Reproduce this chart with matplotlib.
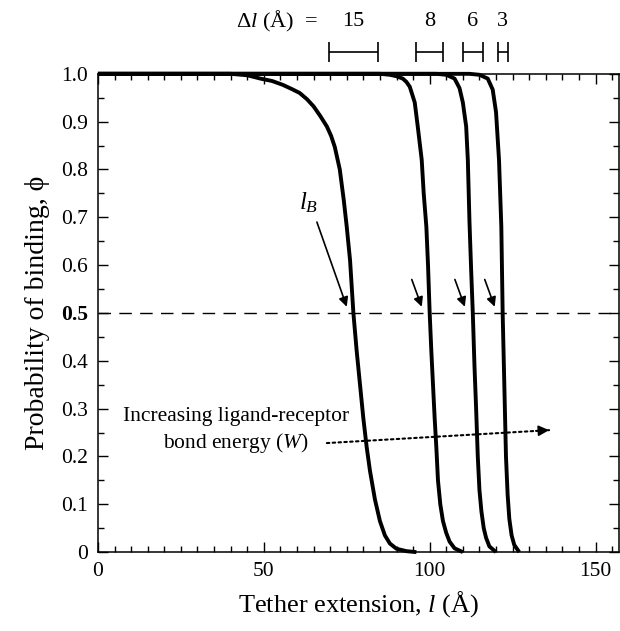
import numpy as np
import matplotlib
matplotlib.use("Agg")
import matplotlib.pyplot as plt
from matplotlib.ticker import MultipleLocator, FixedLocator

plt.rcParams['font.family'] = ['Liberation Serif', 'DejaVu Serif']
plt.rcParams['mathtext.fontset'] = 'custom'
plt.rcParams['mathtext.rm'] = 'Liberation Serif'
plt.rcParams['mathtext.it'] = 'Liberation Serif:italic'

# binding probability curves, one per bond energy
x1 = [0, 40, 45, 49, 52.5, 55.7, 58.5, 60.8, 63, 65, 67, 69, 70.3, 71.4, 72.9, 74.1, 75, 76, 77, 78, 79, 80, 81, 82, 83.5, 85, 86.5, 88, 90, 93, 96]
y1 = [1, 1, 0.997, 0.99, 0.985, 0.977, 0.968, 0.96, 0.947, 0.932, 0.912, 0.89, 0.87, 0.847, 0.80, 0.736, 0.68, 0.61, 0.5, 0.42, 0.35, 0.28, 0.22, 0.17, 0.11, 0.065, 0.035, 0.018, 0.007, 0.002, 0]

x2 = [0, 85, 88, 90, 91.9, 93, 94, 95.5, 96.4, 97.6, 98.2, 99, 99.5, 100, 100.5, 101, 101.5, 102, 102.5, 103.2, 104, 105, 106, 107.5, 110]
y2 = [1, 1, 0.998, 0.995, 0.99, 0.983, 0.973, 0.94, 0.89, 0.82, 0.75, 0.68, 0.6, 0.5, 0.42, 0.35, 0.28, 0.22, 0.15, 0.1, 0.065, 0.04, 0.022, 0.008, 0]

x3 = [0, 102, 105, 107.5, 109, 110, 111, 111.5, 112, 112.5, 113, 113.5, 114, 114.5, 115, 115.6, 116.3, 117, 118, 120]
y3 = [1, 1, 0.998, 0.99, 0.97, 0.94, 0.89, 0.82, 0.69, 0.59, 0.5, 0.39, 0.3, 0.2, 0.13, 0.085, 0.05, 0.03, 0.012, 0]

x4 = [0, 112, 115, 117.5, 119, 120, 120.9, 121.6, 122, 122.5, 123, 123.5, 124, 124.7, 125.5, 127]
y4 = [1, 1, 0.998, 0.99, 0.967, 0.92, 0.82, 0.68, 0.5, 0.35, 0.2, 0.12, 0.07, 0.035, 0.015, 0]

# l_B (midpoint) and transition width for each curve
l_B = [77, 100, 113, 122]
delta_l = [15, 8, 6, 3]

yticks = [0, 0.1, 0.2, 0.3, 0.4, 0.5, 0.6, 0.7, 0.8, 0.9, 1.0]
ytick_labels = ['0', '0.1', '0.2', '0.3', '0.4', '0.5', '0.6', '0.7', '0.8', '0.9', '1.0']
xticks = [0, 50, 100, 150]

fig = plt.figure(figsize=(6.2, 6.31), dpi=100)
ax = fig.add_axes([0.158, 0.125, 0.84, 0.758])

for xs, ys in [(x1, y1), (x2, y2), (x3, y3), (x4, y4)]:
    ax.plot(xs, ys, color='black', lw=2.8, solid_capstyle='butt', solid_joinstyle='round',
            clip_on=False, zorder=3)

ax.axhline(0.5, color='black', lw=1.0, dashes=(9, 6))

ax.set_xlim(0, 157)
ax.set_ylim(0, 1.0)
ax.xaxis.set_major_locator(FixedLocator(xticks))
ax.xaxis.set_minor_locator(MultipleLocator(5))
ax.yaxis.set_major_locator(FixedLocator(yticks))
ax.yaxis.set_minor_locator(MultipleLocator(0.05))
ax.set_yticklabels(ytick_labels)
ax.tick_params(which='both', direction='in', top=True, right=True, width=1.0)
ax.tick_params(which='major', length=7, labelsize=15.5, pad=7)
ax.tick_params(which='minor', length=4)
for lab in ax.get_yticklabels():
    if lab.get_text() == '0.5':
        lab.set_fontweight('bold')
for sp in ax.spines.values():
    sp.set_linewidth(1.1)

ax.set_xlabel('Tether extension, $l$ (Å)', fontsize=19, labelpad=6)
ax.set_ylabel('Probability of binding, ϕ', fontsize=20, labelpad=8)

# arrows marking l_B on each curve
arrow_kw = dict(arrowstyle='-|>', color='black', lw=1.2, mutation_scale=14, shrinkA=0, shrinkB=0)
ax.annotate('', xy=(75, 0.513), xytext=(66, 0.69), arrowprops=arrow_kw)
ax.text(63.5, 0.73, '$l_B$', fontsize=18, ha='center', va='center')
for xb in l_B[1:]:
    ax.annotate('', xy=(xb - 2.4, 0.513), xytext=(xb - 5.4, 0.57), arrowprops=arrow_kw)

# bond energy trend
ax.text(41.6, 0.283, 'Increasing ligand-receptor', fontsize=15.5, ha='center', va='center')
ax.text(41.6, 0.228, 'bond energy ($W$)', fontsize=15.5, ha='center', va='center')
ax.annotate('', xy=(136, 0.255), xytext=(69, 0.228),
            arrowprops=dict(arrowstyle='-', color='black', lw=1.5, linestyle=(0, (1.2, 1.6)), shrinkA=0, shrinkB=0))
ax.annotate('', xy=(136, 0.255), xytext=(132, 0.2535),
            arrowprops=dict(arrowstyle='-|>', color='black', lw=1.2, mutation_scale=16, shrinkA=0, shrinkB=0))

# widths of the transitions, shown above the plot
ax.errorbar(l_B, [1.046] * 4, xerr=np.array(delta_l) / 2, fmt='none', ecolor='black',
            elinewidth=1.2, capsize=7, capthick=1.2, clip_on=False)
for xb, dl in zip(l_B, delta_l):
    ax.text(xb, 1.109, str(dl), fontsize=16, ha='center', va='center', clip_on=False)
ax.text(66.3, 1.109, r'Δ$l$ (Å)  =', fontsize=16, ha='right', va='center')

fig.savefig('out.png', dpi=100)
